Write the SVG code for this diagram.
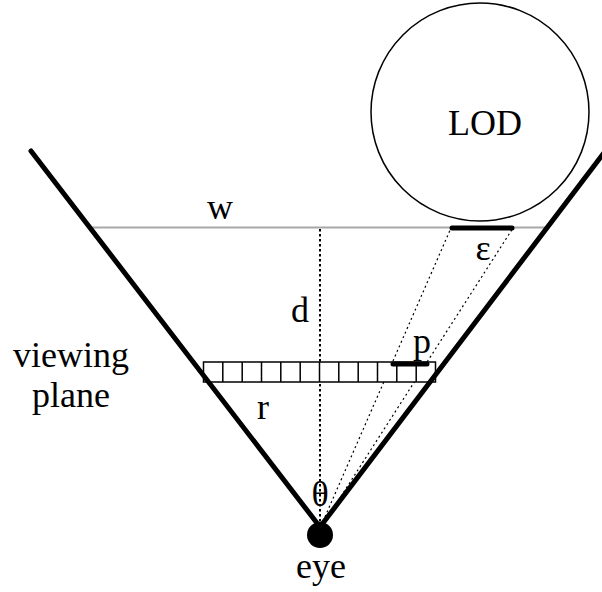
<svg xmlns="http://www.w3.org/2000/svg" width="602" height="592" viewBox="0 0 602 592" font-family="Liberation Serif, DejaVu Serif, serif">
<style>
text{font-size:36px;fill:#000;text-anchor:middle}
.cone{stroke:#000;stroke-width:5;stroke-linecap:round;fill:none}
.thin{stroke:#000;stroke-width:1.2;stroke-dasharray:2 3;fill:none}
.vdot{stroke:#000;stroke-width:2;stroke-dasharray:2.5 2.5;fill:none}
.bar{stroke:#000;stroke-width:5;stroke-linecap:round}
.cell{fill:#fff;stroke:#000;stroke-width:1.5}
</style>
<rect width="602" height="592" fill="#fff"/>
<g id="connectors">
<line x1="90" y1="227.5" x2="548" y2="227.5" stroke="#a8a8a8" stroke-width="2"/>
<line class="vdot" x1="320" y1="229" x2="320" y2="527"/>
<line class="thin" x1="321" y1="526" x2="451" y2="228"/>
<line class="thin" x1="322" y1="526" x2="513" y2="228"/>
</g>
<g id="viewing-plane">
<rect class="cell" x="203.5" y="362" width="232" height="20"/>
<path d="M222.8 362v20M242.2 362v20M261.5 362v20M280.8 362v20M300.2 362v20M319.5 362v20M338.8 362v20M358.2 362v20M377.5 362v20M396.8 362v20M416.2 362v20" stroke="#000" stroke-width="1.5"/>
<text x="71" y="367">viewing</text>
<text x="71" y="407">plane</text>
</g>
<g id="cone">
<line class="cone" x1="31" y1="151" x2="320" y2="527"/>
<line class="cone" x1="320" y1="527" x2="606" y2="150"/>
</g>
<g id="lod">
<circle cx="480" cy="112" r="109" fill="none" stroke="#000" stroke-width="1.5"/>
<text x="485" y="135">LOD</text>
</g>
<g id="epsilon">
<line class="bar" x1="452" y1="228" x2="512" y2="228"/>
<text x="483" y="260">ε</text>
</g>
<g id="pixel">
<line class="bar" x1="393" y1="364" x2="427" y2="364"/>
<text x="422" y="353">p</text>
</g>
<g id="labels">
<text x="220" y="219">w</text>
<text x="300" y="322">d</text>
<text x="263" y="419">r</text>
<text x="320" y="506">θ</text>
</g>
<g id="eye">
<circle cx="320" cy="535" r="13" fill="#000"/>
<text x="321" y="578">eye</text>
</g>
</svg>
